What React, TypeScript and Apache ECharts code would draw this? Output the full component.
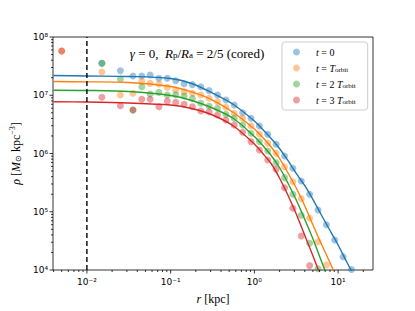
import React, { useEffect, useRef } from 'react';
import * as echarts from 'echarts';

const X_MIN = 0.003936;
const X_MAX = 26.1;
const Y_MIN = 1e4;
const Y_MAX = 1e8;
const SOFTENING_R = 0.01;

// radii (kpc) at which the model curves were read
const R_LINE = [0.00398, 0.01, 0.0316, 0.1, 0.178, 0.316, 0.562, 1, 1.259, 1.585, 1.995, 2.512, 3.162, 3.981, 5.012, 6.31, 7.943, 10, 12.59, 15.85, 19.95];
const LINE_T0 = [2.18e7, 2.14e7, 2.10e7, 1.94e7, 1.59e7, 1.09e7, 6.94e6, 3.61e6, 2.58e6, 1.81e6, 1.22e6, 7.59e5, 4.54e5, 2.83e5, 1.62e5, 8.79e4, 4.86e4, 2.69e4, 1.40e4, 7.59e3, 4.03e3];
const LINE_T1 = [1.72e7, 1.70e7, 1.66e7, 1.41e7, 1.14e7, 8.28e6, 5.06e6, 2.63e6, 1.88e6, 1.29e6, 8.21e5, 4.67e5, 2.56e5, 1.28e5, 5.93e4, 2.79e4, 1.37e4, 6.47e3, 3.05e3, null, null];
const LINE_T2 = [1.22e7, 1.21e7, 1.16e7, 9.9e6, 8.13e6, 6.04e6, 3.99e6, 1.96e6, 1.37e6, 9.24e5, 5.75e5, 3.12e5, 1.59e5, 7.52e4, 3.41e4, 1.43e4, 5.98e3, null, null, null, null];
const LINE_T3 = [7.74e6, 7.65e6, 7.36e6, 6.80e6, 5.93e6, 4.58e6, 2.97e6, 1.46e6, 1.00e6, 6.73e5, 3.80e5, 1.94e5, 9.14e4, 3.99e4, 1.74e4, 7.29e3, null, null, null, null, null];

// radii (kpc) of the measured bins
const R_DOTS = [0.005, 0.0151, 0.0251, 0.0355, 0.0452, 0.0569, 0.0724, 0.0912, 0.115, 0.145, 0.182, 0.229, 0.288, 0.363, 0.457, 0.575, 0.724, 0.912, 1.148, 1.445, 1.82, 2.291, 2.884, 3.631, 4.571, 5.754, 7.244, 9.12, 11.48, 14.45];
const DOTS_T0 = [null, 3.53e7, 2.64e7, 2.14e7, 2.14e7, 2.23e7, 1.96e7, 1.96e7, 1.78e7, 1.58e7, 1.52e7, 1.40e7, 1.20e7, 1.01e7, 8.28e6, 6.80e6, 5.02e6, 4.02e6, 2.96e6, 2.14e6, 1.44e6, 9.06e5, 5.57e5, 3.37e5, 1.99e5, 1.07e5, 6.0e4, 3.27e4, 1.69e4, 1.02e4];
const DOTS_T1 = [5.75e7, 2.51e7, 1.01e7, 1.08e7, 1.73e7, 1.60e7, 1.56e7, 1.37e7, 1.23e7, 1.15e7, 1.08e7, 1.01e7, 8.87e6, 7.75e6, 6.21e6, 4.90e6, 4.02e6, 3.00e6, 2.16e6, 1.50e6, 1.01e6, 5.93e5, 3.28e5, 1.68e5, 7.72e4, 3.06e4, 1.22e4, null, null, null];
const DOTS_T2 = [null, 3.53e7, 1.90e7, 5.58e6, 1.40e7, 1.05e7, 1.12e7, 1.01e7, 1.02e7, 9.7e6, 8.8e6, 7.28e6, 6.54e6, 5.97e6, 4.71e6, 4.02e6, 3.08e6, 2.22e6, 1.60e6, 1.10e6, 6.95e5, 3.85e5, 2.00e5, 8.69e4, 2.87e4, 1.05e4, null, null, null, null];
const DOTS_T3 = [5.75e7, 9.23e6, 6.62e6, 5.58e6, 8.51e6, 8.51e6, 6.35e6, 7.96e6, 7.57e6, 7.00e6, 6.36e6, 5.37e6, 5.22e6, 4.58e6, 3.76e6, 3.08e6, 2.31e6, 1.60e6, 1.15e6, 7.73e5, 5.35e5, 2.59e5, 1.15e5, 3.84e4, 1.19e4, null, null, null, null, null];

const SERIES_NAMES = ['t = 0', 't = T_orbit', 't = 2 T_orbit', 't = 3 T_orbit'];
const LEGEND_LABELS = ['{g| }{i|t} = 0', '{g| }{i|t} = {i|T}{sub|orbit}', '{g| }{i|t} = 2 {i|T}{sub|orbit}', '{g| }{i|t} = 3 {i|T}{sub|orbit}'];
const COLORS = ['#1f77b4', '#ff7f0e', '#2ca02c', '#d62728'];
const DOT_COLORS = ['rgba(31,119,180,0.55)', 'rgba(255,127,14,0.55)', 'rgba(44,160,44,0.55)', 'rgba(214,39,40,0.55)'];

const X_MAJOR = [0.01, 0.1, 1, 10];
const X_MINOR = [0.004, 0.005, 0.006, 0.007, 0.008, 0.009, 0.02, 0.03, 0.04, 0.05, 0.06, 0.07, 0.08, 0.09, 0.2, 0.3, 0.4, 0.5, 0.6, 0.7, 0.8, 0.9, 2, 3, 4, 5, 6, 7, 8, 9, 20];
const Y_MAJOR = [1e4, 1e5, 1e6, 1e7, 1e8];
const Y_MINOR = [2e4, 3e4, 4e4, 5e4, 6e4, 7e4, 8e4, 9e4, 2e5, 3e5, 4e5, 5e5, 6e5, 7e5, 8e5, 9e5, 2e6, 3e6, 4e6, 5e6, 6e6, 7e6, 8e6, 9e6, 2e7, 3e7, 4e7, 5e7, 6e7, 7e7, 8e7, 9e7];

const SUP: Record<string, string> = { '-': '⁻', '0': '⁰', '1': '¹', '2': '²', '3': '³', '4': '⁴', '5': '⁵', '6': '⁶', '7': '⁷', '8': '⁸', '9': '⁹' };
const powLabel = (v: number) => {
  const e = Math.round(Math.log10(v));
  return '10' + String(e).split('').map((c) => SUP[c] || c).join('');
};

const SERIF = 'Liberation Serif';
const SANS = 'DejaVu Sans';

function tickSeries(values: number[], axis: 'x' | 'y', len: number) {
  return {
    type: 'custom',
    silent: true,
    clip: false,
    z: 10,
    data: values.map((v) => (axis === 'x' ? [v, Y_MIN] : [X_MIN, v])),
    renderItem: (_params: any, api: any) => {
      const p = api.coord([api.value(0), api.value(1)]);
      const shape = axis === 'x'
        ? { x1: p[0], y1: p[1], x2: p[0], y2: p[1] + len }
        : { x1: p[0], y1: p[1], x2: p[0] - len, y2: p[1] };
      return { type: 'line', shape, style: { stroke: '#000', lineWidth: 0.8 } };
    },
  };
}

export default function App() {
  const ref = useRef<HTMLDivElement>(null);
  useEffect(() => {
    if (!ref.current) return;
    const chart = echarts.init(ref.current, undefined, { renderer: 'svg' });
    const lines = [LINE_T0, LINE_T1, LINE_T2, LINE_T3];
    const dots = [DOTS_T0, DOTS_T1, DOTS_T2, DOTS_T3];
    const series: any[] = [];
    dots.forEach((arr, k) => {
      series.push({
        type: 'scatter',
        name: SERIES_NAMES[k],
        data: R_DOTS.map((r, i) => [r, arr[i]]).filter((d) => d[1] != null),
        symbol: 'circle',
        symbolSize: 7,
        itemStyle: { color: DOT_COLORS[k] },
        z: 2,
      });
    });
    lines.forEach((arr, k) => {
      series.push({
        type: 'line',
        data: R_LINE.map((r, i) => [r, arr[i]]).filter((d) => d[1] != null),
        showSymbol: false,
        smooth: 0.3,
        clip: true,
        lineStyle: { color: COLORS[k], width: 1.4 },
        z: 3,
      });
    });
    series.push({
      type: 'line',
      data: [[SOFTENING_R, Y_MIN], [SOFTENING_R, Y_MAX]],
      showSymbol: false,
      lineStyle: { color: '#000', width: 1.4, type: [5, 3] },
      z: 4,
    });
    series.push(tickSeries(X_MAJOR, 'x', 3.5));
    series.push(tickSeries(X_MINOR, 'x', 2));
    series.push(tickSeries(Y_MAJOR, 'y', 3.5));
    series.push(tickSeries(Y_MINOR, 'y', 2));

    chart.setOption({
      animation: false,
      grid: { left: 52, right: 42, top: 37, bottom: 41, show: true, borderColor: '#000', borderWidth: 0.8, backgroundColor: 'transparent' },
      xAxis: {
        type: 'log', min: X_MIN, max: X_MAX, logBase: 10,
        axisLine: { show: false }, axisTick: { show: false }, splitLine: { show: false },
        axisLabel: { formatter: powLabel, showMinLabel: false, showMaxLabel: false, color: '#000', fontFamily: SANS, fontSize: 9, margin: 7 },
        name: '{i|r} [kpc]', nameLocation: 'middle', nameGap: 23,
        nameTextStyle: { fontFamily: SERIF, fontSize: 12, color: '#000', rich: { i: { fontStyle: 'italic', fontFamily: SERIF, fontSize: 12 } } },
      },
      yAxis: {
        type: 'log', min: Y_MIN, max: Y_MAX, logBase: 10,
        axisLine: { show: false }, axisTick: { show: false }, splitLine: { show: false },
        axisLabel: { formatter: powLabel, color: '#000', fontFamily: SANS, fontSize: 9, margin: 5 },
        name: '{i|ρ} [{i|M}{sub|⊙} kpc{sup|−3}]', nameLocation: 'middle', nameGap: 30, nameRotate: 90,
        nameTextStyle: {
          fontFamily: SERIF, fontSize: 12, color: '#000',
          rich: {
            i: { fontStyle: 'italic', fontFamily: SERIF, fontSize: 12 },
            sub: { fontFamily: SERIF, fontSize: 8, padding: [5, 0, 0, 0] },
            sup: { fontFamily: SERIF, fontSize: 8, padding: [0, 0, 7, 0] },
          },
        },
      },
      legend: {
        data: SERIES_NAMES,
        orient: 'vertical',
        left: 282, top: 42,
        padding: [4, 12, 4, 11],
        itemWidth: 7, itemHeight: 7, itemGap: 4,
        icon: 'circle',
        backgroundColor: 'rgba(255,255,255,0.8)', borderColor: '#cccccc', borderWidth: 1, borderRadius: 3,
        formatter: (name: string) => LEGEND_LABELS[SERIES_NAMES.indexOf(name)],
        textStyle: {
          fontFamily: SERIF, fontSize: 10, color: '#000', lineHeight: 12,
          rich: {
            g: { width: 11 },
            i: { fontStyle: 'italic', fontFamily: SERIF, fontSize: 10 },
            sub: { fontFamily: SERIF, fontSize: 7, padding: [4, 0, 0, 0] },
          },
        },
      },
      graphic: [
        {
          type: 'text', x: 197, y: 53, silent: true,
          style: {
            text: '{i|γ} = 0,  {i|R}{sub|p}/{i|R}{sub|a} = 2/5 (cored)',
            align: 'center', verticalAlign: 'middle', textAlign: 'center', textVerticalAlign: 'middle',
            fill: '#000', font: `13px "${SERIF}"`,
            rich: {
              i: { fontStyle: 'italic', fontFamily: SERIF, fontSize: 13 },
              sub: { fontFamily: SERIF, fontSize: 9, padding: [4, 0, 0, 0] },
            },
          },
        },
      ],
      series,
    });
    return () => chart.dispose();
  }, []);
  return <div ref={ref} style={{ width: 415, height: 311, position: 'absolute', left: 0, top: 0 }} />;
}
